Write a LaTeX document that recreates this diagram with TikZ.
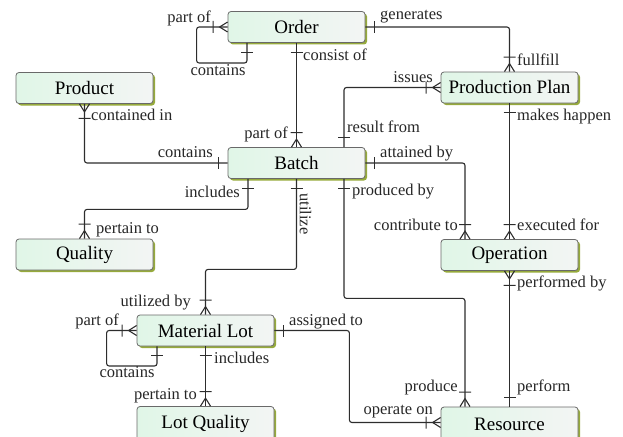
\documentclass[tikz,border=0pt]{standalone}
\usepackage{fontspec}
\setmainfont{Liberation Serif}
\usetikzlibrary{shadows}
\definecolor{entL}{RGB}{224,246,231}
\definecolor{entR}{RGB}{243,245,244}
\definecolor{shcol}{RGB}{150,170,60}
\definecolor{bordcol}{RGB}{105,105,105}
\definecolor{linecol}{RGB}{45,45,45}
\pgfdeclarearrow{
  name = CF,
  setup code = {
    \pgfarrowssettipend{0pt}
    \pgfarrowssetlineend{0pt}
    \pgfarrowssetbackend{-16pt}
  },
  drawing code = {
    \pgfpathmoveto{\pgfqpoint{0pt}{5pt}}
    \pgfpathlineto{\pgfqpoint{-8pt}{0pt}}
    \pgfpathlineto{\pgfqpoint{0pt}{-5pt}}
    \pgfpathmoveto{\pgfqpoint{-14.5pt}{6pt}}
    \pgfpathlineto{\pgfqpoint{-14.5pt}{-6pt}}
    \pgfusepathqstroke
  }
}
\pgfdeclarearrow{
  name = OB,
  setup code = {
    \pgfarrowssettipend{0pt}
    \pgfarrowssetlineend{0pt}
    \pgfarrowssetbackend{-12pt}
  },
  drawing code = {
    \pgfpathmoveto{\pgfqpoint{-9.5pt}{6pt}}
    \pgfpathlineto{\pgfqpoint{-9.5pt}{-6pt}}
    \pgfusepathqstroke
  }
}
\tikzset{
  ent/.style={rounded corners=3pt, draw=bordcol, line width=0.8pt,
    left color=entL, right color=entR, minimum width=137pt, minimum height=31pt,
    inner sep=0pt, font=\fontsize{19}{22}\selectfont,
    drop shadow={shadow xshift=2pt, shadow yshift=-2pt, fill=shcol, opacity=1}},
  enttall/.style={ent, minimum height=34pt},
  conn/.style={draw=linecol, line width=1.1pt, rounded corners=2.5pt},
  lbl/.style={font=\fontsize{16.5}{19}\selectfont, inner sep=0pt, text=black!85}
}
\begin{document}
\begin{tikzpicture}[x=1pt, y=-1pt]
\useasboundingbox (0,0) rectangle (623,436);
% entities
\node[ent] (order) at (296.5,27) {Order};
\node[ent] (pplan) at (509.5,87.5) {Production Plan};
\node[ent] (product) at (84.5,88) {Product};
\node[ent] (batch) at (296.5,163) {Batch};
\node[ent] (quality) at (84.5,254.5) {Quality};
\node[ent] (operation) at (509.5,255) {Operation};
\node[ent] (matlot) at (205.5,330.5) {Material Lot};
\node[enttall] (lotqual) at (205.5,423.5) {Lot Quality};
\node[enttall] (resource) at (509.5,424) {Resource};
% connectors
\draw[conn, CF-OB] (order.west) -- ++(-31,0) -- ++(0,36) -| ([xshift=-49.5pt]order.south);
\draw[conn, OB-CF] (order.east) -| (pplan.north);
\draw[conn, OB-CF] (order.south) -- (batch.north);
\draw[conn, CF-OB] (pplan.west) -| ([xshift=47.5pt]batch.north);
\draw[conn, CF-OB] (product.south) |- (batch.west);
\draw[conn, OB-CF] ([xshift=-48.5pt]batch.south) -- ++(0,30.5) -| (quality.north);
\draw[conn, OB-CF] (batch.south) -- ++(0,90.5) -| (matlot.north);
\draw[conn, OB-CF] (batch.east) -| ([xshift=-44.5pt]operation.north);
\draw[conn, OB-CF] ([xshift=47.5pt]batch.south) -- ++(0,119.5) -| ([xshift=-44.5pt]resource.north);
\draw[conn, OB-CF] (pplan.south) -- (operation.north);
\draw[conn, CF-OB] (operation.south) -- (resource.north);
\draw[conn, CF-OB] (matlot.west) -- ++(-30,0) -- ++(0,35.5) -| ([xshift=-48.5pt]matlot.south);
\draw[conn, OB-CF] (matlot.south) -- (lotqual.north);
\draw[conn, OB-CF] (matlot.east) -- ++(75,0) |- ([yshift=1.5pt]resource.west);
% labels
\node[lbl, anchor=base east] (l1) at (211,23) {part of};
\node[lbl, anchor=base] (l2) at (218,75) {contains};
\node[lbl, anchor=base west] (l3) at (380,20) {generates};
\node[lbl, anchor=base west] (l4) at (303,60) {consist of};
\node[lbl, anchor=base west] (l5) at (517,65) {fullfill};
\node[lbl, anchor=base east] (l6) at (433,82) {issues};
\node[lbl, anchor=base west] (l7) at (517,120) {makes happen};
\node[lbl, anchor=base west] (l8) at (91,120) {contained in};
\node[lbl, anchor=base east] (l9) at (213,157) {contains};
\node[lbl, anchor=base east] (l10) at (288,138) {part of};
\node[lbl, anchor=base west] (l11) at (347,132) {result from};
\node[lbl, anchor=base west] (l12) at (380,157) {attained by};
\node[lbl, anchor=base east] (l13) at (240,197) {includes};
\node[lbl, rotate=-90] (l14) at (305.5,214) {utilize};
\node[lbl, anchor=base west] (l15) at (352,195) {produced by};
\node[lbl, anchor=base west] (l16) at (96,233) {pertain to};
\node[lbl, anchor=base east] (l17) at (458,230) {contribute to};
\node[lbl, anchor=base west] (l18) at (517,230) {executed for};
\node[lbl, anchor=base west] (l19) at (517,287) {performed by};
\node[lbl, anchor=base east] (l20) at (191,306) {utilized by};
\node[lbl, anchor=base east] (l21) at (119,325) {part of};
\node[lbl, anchor=base] (l22) at (127,377) {contains};
\node[lbl, anchor=base west] (l23) at (214,363) {includes};
\node[lbl, anchor=base east] (l24) at (197,399) {pertain to};
\node[lbl, anchor=base west] (l25) at (289,325) {assigned to};
\node[lbl, anchor=base east] (l26) at (458,391) {produce};
\node[lbl, anchor=base west] (l27) at (517,391) {perform};
\node[lbl, anchor=base east] (l28) at (433,414) {operate on};
\end{tikzpicture}
\end{document}
